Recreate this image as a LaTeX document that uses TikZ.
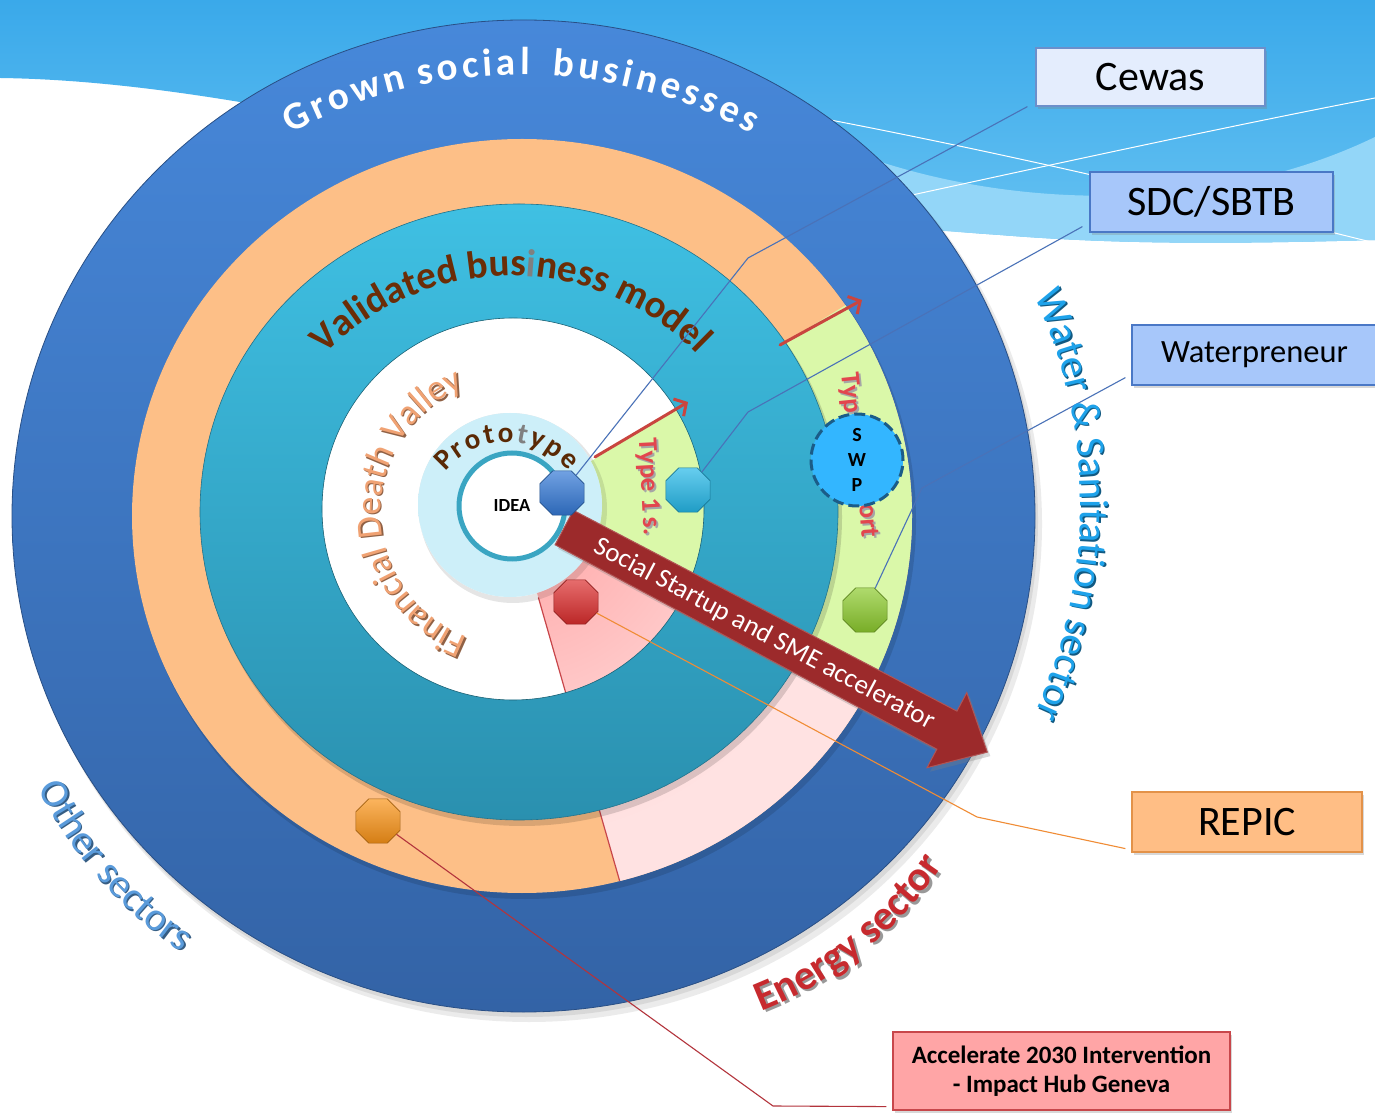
\documentclass[tikz,border=0pt]{standalone}
\usepackage{fontspec}
\setmainfont{Carlito}
\usetikzlibrary{shapes.geometric,arrows.meta,decorations.text,shadows}

% palette
\definecolor{skytop}{HTML}{3AA9EA}
\definecolor{skybot}{HTML}{66C2F2}
\definecolor{skylight}{HTML}{93D6F8}
\definecolor{ringblueT}{HTML}{4788DA}
\definecolor{ringblueB}{HTML}{3363A6}
\definecolor{ringorange}{HTML}{FDBF87}
\definecolor{ringtealT}{HTML}{3FC0E3}
\definecolor{ringtealB}{HTML}{2A90AF}
\definecolor{wedgegreen}{HTML}{DAF8A9}
\definecolor{pinkdeep}{HTML}{FFA3A3}
\definecolor{pinklight}{HTML}{FFE2E2}
\definecolor{edgered}{HTML}{C8464A}
\definecolor{protoA}{HTML}{CDEFF9}
\definecolor{protoB}{HTML}{B6E6F5}
\definecolor{protoC}{HTML}{9DD8EC}
\definecolor{ideaedge}{HTML}{3AA5C2}
\definecolor{accred}{HTML}{9C2A2B}
\definecolor{thinred}{HTML}{C9453F}
\definecolor{typered}{HTML}{E2464E}
\definecolor{brownA}{HTML}{6B2D07}
\definecolor{protobrown}{HTML}{5A2905}
\definecolor{valleyorange}{HTML}{F0A273}
\definecolor{waterblue}{HTML}{1EA2EA}
\definecolor{otherblue}{HTML}{5A9BDB}
\definecolor{energyred}{HTML}{C72A2E}
\definecolor{swpfill}{HTML}{33B6FF}
\definecolor{swpedge}{HTML}{1B5C88}
\definecolor{linkblue}{HTML}{4A72B8}
\definecolor{linkorange}{HTML}{F08C35}
\definecolor{linkred}{HTML}{B3343C}
\definecolor{cewasfill}{HTML}{E4EDFD}
\definecolor{cewasedge}{HTML}{6C8FCB}
\definecolor{sdcfill}{HTML}{A7C7FA}
\definecolor{sdcedge}{HTML}{4A78C6}
\definecolor{repicfill}{HTML}{FFBE85}
\definecolor{repicedge}{HTML}{E39249}
\definecolor{accfill}{HTML}{FFA5A6}
\definecolor{accedge}{HTML}{C8474B}
\definecolor{gemblue}{HTML}{3479D6}
\definecolor{gemcyan}{HTML}{25B8E8}
\definecolor{gemred}{HTML}{DC2E2E}
\definecolor{gemgreen}{HTML}{8DCB2E}
\definecolor{gemorange}{HTML}{FA9418}

\pgfdeclareradialshading{protoshade}{\pgfpoint{0bp}{0bp}}{%
  color(0bp)=(protoA); color(30bp)=(protoA); color(41bp)=(protoB);
  color(47bp)=(protoC); color(50bp)=(protoB)}

\newcommand\grownfont{\fontsize{39}{40}\selectfont\bfseries\color{white}}
\newcommand\protofont{\fontsize{29}{30}\selectfont\bfseries}

\tikzset{
  gem/.style={regular polygon, regular polygon sides=8, minimum size=48pt,
    inner sep=0pt, line width=0.6pt, draw=#1!65!black,
    top color=#1!70!white, middle color=#1, bottom color=#1!85!black},
  link/.style={line width=1.1pt},
  redarrow/.style={draw=thinred, line width=3pt, line cap=round,
    -{Straight Barb[length=9pt,width=20pt]}},
  partnerbox/.style={draw, line width=1.2pt, inner sep=0pt,
    drop shadow={shadow xshift=2pt, shadow yshift=-3pt, opacity=0.3}},
}

\begin{document}
\begin{tikzpicture}[x=1pt,y=1pt]
\useasboundingbox (0,0) rectangle (1375,1117);
\fill[white] (0,0) rectangle (1375,1117);

% sky with waves
\shade[top color=skytop, bottom color=skybot]
  (0,1117) -- (1375,1117) -- (1375,877)
  .. controls (1200,872) and (1100,874) .. (1000,882)
  .. controls (650,905) and (300,1035) .. (0,1039) -- cycle;
\fill[skylight]
  (860,962) .. controls (1020,905) and (1220,905) .. (1375,980)
  -- (1375,877) .. controls (1200,872) and (1100,874) .. (1000,882)
  -- (860,892) -- cycle;
\draw[white, line width=1pt]
  (820,999) .. controls (1050,955) and (1250,905) .. (1375,874);
\draw[white, line width=1pt]
  (880,915) .. controls (1100,963) and (1250,995) .. (1375,1019);

% outer rings
\fill[black, opacity=0.08] (529,593) ellipse [x radius=513, y radius=498];
\fill[black, opacity=0.08] (526,597) ellipse [x radius=512, y radius=497];
\shade[top color=ringblueT, bottom color=ringblueB, draw=ringblueB!80!black, line width=0.8pt]
  (523.5,601) ellipse [x radius=511.5, y radius=496];
\fill[black, opacity=0.12, even odd rule]
  (525,596) ellipse [x radius=391, y radius=378] (522,601) ellipse [x radius=390, y radius=377];
\fill[ringorange] (522,601) ellipse [x radius=390, y radius=377];
\fill[white] (513,608) circle (191);

% sector wedges, kept inside the orange ring
\begin{scope}
  \clip (522,601) ellipse [x radius=390, y radius=377];
  \fill[wedgegreen] (513,608) -- ++(-26:600) arc[start angle=-26, end angle=31.5, radius=600] -- cycle;
  \begin{scope}
    \clip (513,608) -- ++(-74:600) arc[start angle=-74, end angle=-26, radius=600] -- cycle;
    \fill[pinklight] (513,608) circle (600);
    \shade[inner color=pinkdeep, outer color=pinklight] (513,608) circle (330);
  \end{scope}
  \draw[edgered, line width=1.2pt] (513,608) ++(-74:92) -- ++(-74:400);
\end{scope}

% validated business model ring
\fill[black, opacity=0.14, even odd rule]
  (522,600) ellipse [x radius=320, y radius=309] (519,605) ellipse [x radius=319, y radius=308];
\shade[top color=ringtealT, bottom color=ringtealB, even odd rule]
  (519,605) ellipse [x radius=319, y radius=308] (513,608) circle (191);
\draw[ringtealB!80!black, line width=0.6pt] (519,605) ellipse [x radius=319, y radius=308];
\draw[ringtealB!70!black, line width=0.6pt] (513,608) circle (191);

% prototype disc and idea
\fill[black, opacity=0.10, even odd rule] (513,608) circle (94) (510,612) circle (92);
\shade[shading=protoshade] (510,612) circle (92);
\node[circle, draw=ideaedge, line width=5pt, fill=white, minimum size=106pt, inner sep=0pt,
  font=\fontsize{18.5}{20}\selectfont\bfseries] (idea) at (512,611) {IDEA};

% ring titles
\path[decorate, decoration={text along path, text align=center,
  text={|\grownfont|{G\kern3.9pt}{r\kern3.9pt}{o\kern3.9pt}{w\kern3.9pt}{n\kern3.9pt} {s\kern3.9pt}{o\kern3.9pt}{c\kern3.9pt}{i\kern3.9pt}{a\kern3.9pt}{l\kern3.9pt}{\kern10pt} {b\kern3.9pt}{u\kern3.9pt}{s\kern3.9pt}{i\kern3.9pt}{n\kern3.9pt}{e\kern3.9pt}{s\kern3.9pt}{s\kern3.9pt}{e\kern3.9pt}{s}}}]
  ([shift={(150:485)}]521,557) arc[start angle=150, end angle=30, radius=485];

\path[decorate, decoration={text along path, text align=center,
  text={|\fontsize{39}{40}\selectfont\bfseries\color{brownA}|Validated bus|\fontsize{39}{40}\selectfont\bfseries\color{gray}|i|\fontsize{39}{40}\selectfont\bfseries\color{brownA}|ness model}}]
  ([shift={(160:260)}]511,581) arc[start angle=160, end angle=20, radius=260];

\path[decorate, decoration={text along path, text align=center,
  text={|\protofont\color{protobrown}|{P\kern2.6pt}{r\kern2.6pt}{o\kern2.6pt}{t\kern2.6pt}{o\kern2.6pt}|\protofont\color{gray}|{t\kern2.6pt}|\protofont\color{protobrown}|{y\kern2.6pt}{p\kern2.6pt}{e}}}]
  ([shift={(180.4:79)}]507.5,596) arc[start angle=180.4, end angle=0.4, radius=79];

\path[decorate, decoration={text along path, text align=center,
  text={|\fontsize{36}{38}\selectfont\color{valleyorange!60!black}|Financial Death Valley}}]
  ([shift={(270.75:134)}]516.2,603.8) arc[start angle=270.75, end angle=90.75, radius=134];
\path[decorate, decoration={text along path, text align=center,
  text={|\fontsize{36}{38}\selectfont\color{valleyorange}|Financial Death Valley}}]
  ([shift={(270.75:134)}]514.7,605.3) arc[start angle=270.75, end angle=90.75, radius=134];

% support steps
\coordinate (t1s) at (595,660);
\coordinate (t1e) at (688,715);
\coordinate (t2s) at (780,772);
\coordinate (t2e) at (862,817);
\draw[redarrow] (t1s) -- (t1e);
\draw[redarrow] (t2s) -- (t2e);

\node[text=black!35, font=\fontsize{27}{28}\selectfont\bfseries, rotate=-87] (type1sh) at (650,628) {Type 1 s.};
\node[text=typered, font=\fontsize{27}{28}\selectfont\bfseries, rotate=-87] (type1) at (648,630) {Type 1 s.};
\node[text=black!35, font=\fontsize{27}{28}\selectfont\bfseries, rotate=-84] (typash) at (852,722) {Typ};
\node[text=typered, font=\fontsize{27}{28}\selectfont\bfseries, rotate=-84] (typa) at (850,724) {Typ};
\node[text=black!35, font=\fontsize{27}{28}\selectfont\bfseries, rotate=-86] (typbsh) at (871,594) {ort};
\node[text=typered, font=\fontsize{27}{28}\selectfont\bfseries, rotate=-86] (typb) at (869,596) {ort};

% accelerator arrow
\begin{scope}[shift={(564,589)}, rotate=-27.9]
  \fill[accred, draw=accred!80!white, line width=1pt,
    drop shadow={shadow xshift=3pt, shadow yshift=-4pt, opacity=0.3}]
    (0,20) -- (433,22) -- (433,43) -- (479,0) -- (433,-42) -- (433,-21) -- (0,-19) -- cycle;
  \node[text=white, font=\fontsize{27}{28}\selectfont, rotate=-27.9] (accel) at (227,0)
    {Social Startup and SME accelerator};
\end{scope}

% SWP
\node[circle, fill=swpfill, draw=swpedge, line width=3pt, dash pattern=on 11pt off 5pt,
  minimum size=92pt, inner sep=0pt, align=center,
  font=\fontsize{20}{25}\selectfont\bfseries] (swp) at (857,657) {S\\W\\P};

% connector bends
\coordinate (cewasbend) at (748,859);
\coordinate (sdcbend) at (748,705);
\coordinate (waterbend) at (922,629);
\coordinate (repicbend) at (977,300);
\coordinate (accbend) at (773,11);

% partners
\node[partnerbox, draw=cewasedge, fill=cewasfill, minimum width=229pt, minimum height=58pt,
  font=\fontsize{42}{44}\selectfont] (cewas) at (1150.5,1040) {Cewas};
\node[partnerbox, draw=sdcedge, fill=sdcfill, minimum width=243pt, minimum height=60pt,
  font=\fontsize{42}{44}\selectfont] (sdc) at (1211.5,915) {SDC/SBTB};
\node[partnerbox, draw=sdcedge, fill=sdcfill, minimum width=248pt, minimum height=60pt,
  font=\fontsize{32.5}{34}\selectfont] (water) at (1256,762) {\hspace*{-3pt}Waterpreneur};
\node[partnerbox, draw=repicedge, fill=repicfill, minimum width=230pt, minimum height=60pt,
  font=\fontsize{42}{44}\selectfont] (repic) at (1247,295) {REPIC};
\node[partnerbox, draw=accedge, fill=accfill, minimum width=337pt, minimum height=78pt,
  align=center, font=\fontsize{25}{29}\selectfont\bfseries] (acc) at (1061.5,46)
  {Accelerate 2030 Intervention\\- Impact Hub Geneva};

% gems
\node[gem=gemblue] (gblue) at (562,624) {};
\node[gem=gemcyan] (gcyan) at (688,627) {};
\node[gem=gemred] (gred) at (576,515) {};
\node[gem=gemgreen] (ggreen) at (865,507) {};
\node[gem=gemorange] (gorange) at (378,296) {};

% links from partners to gems
\draw[link, linkblue] ([xshift=-8pt]cewas.south west) -- (cewasbend) -- (gblue);
\draw[link, linkblue] ([xshift=-7pt,yshift=6pt]sdc.south west) -- (sdcbend) -- (gcyan);
\draw[link, linkblue] ([xshift=-6pt,yshift=8pt]water.south west) -- (waterbend) -- (ggreen);
\draw[link, linkorange] ([xshift=-6pt,yshift=4pt]repic.south west) -- (repicbend) -- (gred);
\draw[link, linkred] ([xshift=-6pt,yshift=4pt]acc.south west) -- (accbend) -- (gorange);

% sector labels
\path[decorate, decoration={text along path, text align=center,
  text={|\fontsize{41}{43}\selectfont\color{waterblue!55!black}|Water {\&} Sanitation sector}}]
  ([shift={(40:499)}]583,610.5) arc[start angle=40, end angle=-40, radius=499];
\path[decorate, decoration={text along path, text align=center,
  text={|\fontsize{41}{43}\selectfont\color{waterblue}|Water {\&} Sanitation sector}}]
  ([shift={(40:499)}]581.5,612) arc[start angle=40, end angle=-40, radius=499];

\path[decorate, decoration={text along path, text align=center,
  text={|\fontsize{42}{44}\selectfont\bfseries\color{black!40}|Energy sector}}]
  ([shift={(-91.2:386)}]624.2,463.2) arc[start angle=-91.2, end angle=-11.2, radius=386];
\path[decorate, decoration={text along path, text align=center,
  text={|\fontsize{42}{44}\selectfont\bfseries\color{energyred}|Energy sector}}]
  ([shift={(-91.2:386)}]621.7,465.7) arc[start angle=-91.2, end angle=-11.2, radius=386];

\path[decorate, decoration={text along path, text align=center,
  text={|\fontsize{40}{42}\selectfont\color{otherblue!60!black}|Other sectors}}]
  ([shift={(181.3:431)}]424.5,520.5) arc[start angle=181.3, end angle=261.3, radius=431];
\path[decorate, decoration={text along path, text align=center,
  text={|\fontsize{40}{42}\selectfont\color{otherblue}|Other sectors}}]
  ([shift={(181.3:431)}]423,522) arc[start angle=181.3, end angle=261.3, radius=431];
\end{tikzpicture}
\end{document}
